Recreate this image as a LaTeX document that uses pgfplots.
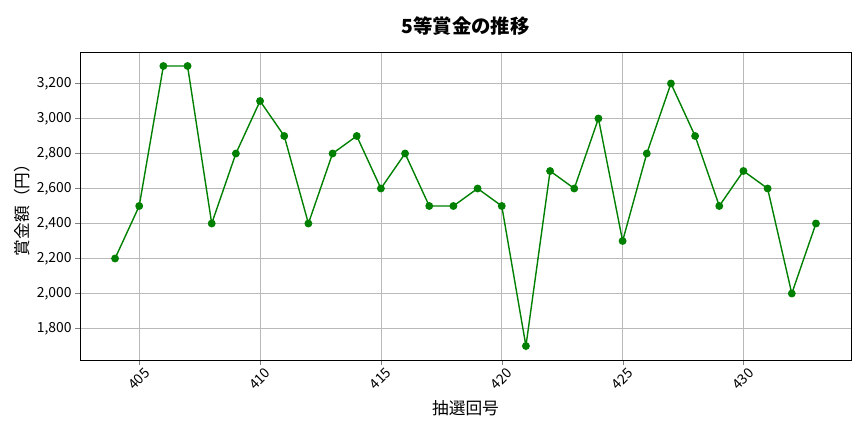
\documentclass[border=0pt]{standalone}
\usepackage{fontspec}
\setmainfont{Noto Sans CJK JP}
\usepackage{pgfplots}
\pgfplotsset{compat=1.18}
\begin{document}
\begin{tikzpicture}
\path[use as bounding box] (0,0) rectangle (864bp,432bp);
\begin{axis}[
  at={(80bp,72bp)}, anchor=south west,
  width=771bp, height=308bp, scale only axis,
  xmin=402.55, xmax=434.45, ymin=1620, ymax=3380,
  xtick={405,410,...,430},
  ytick={1800,2000,...,3200},
  /pgf/number format/assume math mode=true,
  /pgf/number format/1000 sep={,},
  x tick label style={rotate=45, anchor=north east, font=\fontsize{13.9bp}{16bp}\selectfont, xshift=5bp, yshift=-1bp},
  y tick label style={font=\fontsize{13.9bp}{16bp}\selectfont},
  tick align=outside, tick pos=left,
  major tick length=4.9bp,
  grid=major,
  grid style={gray!55, line width=0.7bp},
  axis line style={line width=0.9bp},
  title={\fontsize{19.4bp}{22bp}\selectfont\bfseries 5等賞金の推移},
  title style={yshift=7bp},
  xlabel={\fontsize{16.7bp}{19bp}\selectfont 抽選回号},
  ylabel={\fontsize{16.7bp}{19bp}\selectfont 賞金額（円）},
  xlabel style={yshift=-2bp},
]
\addplot[color={rgb,255:red,0;green,128;blue,0}, line width=1.4bp, mark=*, mark size=3.2bp] coordinates {
(404,2200) (405,2500) (406,3300) (407,3300) (408,2400) (409,2800)
(410,3100) (411,2900) (412,2400) (413,2800) (414,2900) (415,2600)
(416,2800) (417,2500) (418,2500) (419,2600) (420,2500) (421,1700)
(422,2700) (423,2600) (424,3000) (425,2300) (426,2800) (427,3200)
(428,2900) (429,2500) (430,2700) (431,2600) (432,2000) (433,2400)
};
\end{axis}
\end{tikzpicture}
\end{document}
